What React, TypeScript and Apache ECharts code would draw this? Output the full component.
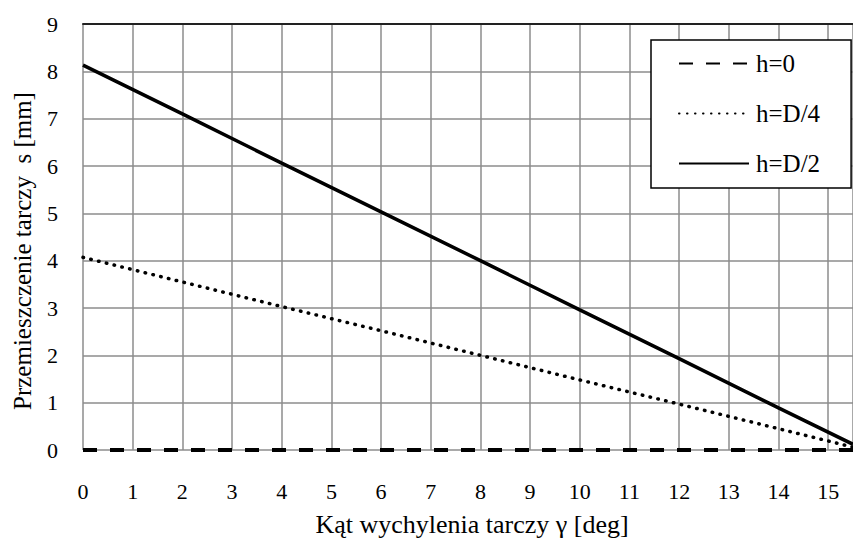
import React, { useEffect, useRef } from "react";
import * as echarts from "echarts";

const seriesNames = ["h=0", "h=D/4", "h=D/2"];
const h0Points: [number, number][] = [[0, 0], [15.5, 0]];
const hD4Points: [number, number][] = [
  [0, 4.07], [2, 3.55], [4, 3.03], [6, 2.52], [8, 2.0], [10, 1.48], [12, 0.97], [14, 0.45], [15.5, 0.06],
];
const hD2Points: [number, number][] = [
  [0, 8.13], [2, 7.1], [4, 6.06], [6, 5.03], [8, 4.0], [10, 2.96], [12, 1.93], [14, 0.89], [15.5, 0.12],
];
const xTitle = "Kąt wychylenia tarczy γ [deg]";
const yTitle = "Przemieszczenie tarczy  s [mm]";

const FONT = "Liberation Serif";

export default function App() {
  const ref = useRef<HTMLDivElement>(null);
  useEffect(() => {
    if (!ref.current) return;
    const chart = echarts.init(ref.current, undefined, { renderer: "svg" });
    const gridColor = "#8c8c8c";
    chart.setOption({
      animation: false,
      backgroundColor: "#ffffff",
      textStyle: { fontFamily: FONT, color: "#000", fontSize: 22 },
      grid: { left: 83, right: -2.5, top: 24, bottom: 89, containLabel: false },
      xAxis: [
        {
          type: "value",
          min: 0,
          max: 15.5,
          interval: 1,
          axisLine: { show: false },
          axisTick: { show: false },
          splitLine: { show: true, lineStyle: { color: gridColor, width: 1.5 } },
          axisLabel: {
            margin: 30,
            showMaxLabel: false,
            fontFamily: FONT,
            fontSize: 22,
            color: "#000",
          },
        },
        {
          type: "value",
          position: "top",
          min: 0,
          max: 15.5,
          interval: 1,
          axisLine: { show: true, onZero: false, lineStyle: { color: "#222", width: 2 } },
          axisTick: { show: false },
          axisLabel: { show: false },
          splitLine: { show: false },
        },
      ],
      yAxis: {
        type: "value",
        min: 0,
        max: 9,
        interval: 1,
        axisLine: { show: false },
        axisTick: { show: false },
        splitLine: { show: true, lineStyle: { color: gridColor, width: 1.5 } },
        axisLabel: { margin: 25, fontSize: 22, color: "#000", fontFamily: FONT },
      },
      legend: {
        left: 651,
        top: 40,
        orient: "vertical",
        itemWidth: 70,
        itemHeight: 20,
        itemGap: 25,
        padding: [11, 31, 12, 27],
        borderColor: "#000",
        borderWidth: 1.5,
        backgroundColor: "#fff",
        itemStyle: { opacity: 0 },
        textStyle: { fontFamily: FONT, fontSize: 25, color: "#000", padding: [0, 0, 0, 2] },
        data: seriesNames,
      },
      graphic: [
        {
          type: "text",
          x: 22,
          y: 251,
          rotation: Math.PI / 2,
          style: {
            text: yTitle,
            fontFamily: FONT,
            fontSize: 25,
            fill: "#000",
            textAlign: "center",
            textVerticalAlign: "middle",
          },
        },
        {
          type: "text",
          x: 472,
          y: 524,
          style: {
            text: xTitle,
            fontFamily: FONT,
            fontSize: 26,
            fill: "#000",
            textAlign: "center",
            textVerticalAlign: "middle",
          },
        },
      ],
      series: [
        {
          name: seriesNames[0],
          type: "line",
          data: h0Points,
          symbol: "none",
          color: "#000",
          lineStyle: { color: "#000", width: 4, type: [14, 13] },
          z: 5,
        },
        {
          name: seriesNames[1],
          type: "line",
          data: hD4Points,
          symbol: "none",
          color: "#000",
          lineStyle: { color: "#000", width: 3.5, type: [0.5, 7.5], cap: "round" },
          z: 4,
        },
        {
          name: seriesNames[2],
          type: "line",
          data: hD2Points,
          symbol: "none",
          color: "#000",
          lineStyle: { color: "#000", width: 3.5 },
          z: 4,
        },
      ],
    });
    return () => chart.dispose();
  }, []);
  return (
    <div
      ref={ref}
      style={{ position: "fixed", left: 0, top: 0, width: 853, height: 539, background: "#fff" }}
    />
  );
}
